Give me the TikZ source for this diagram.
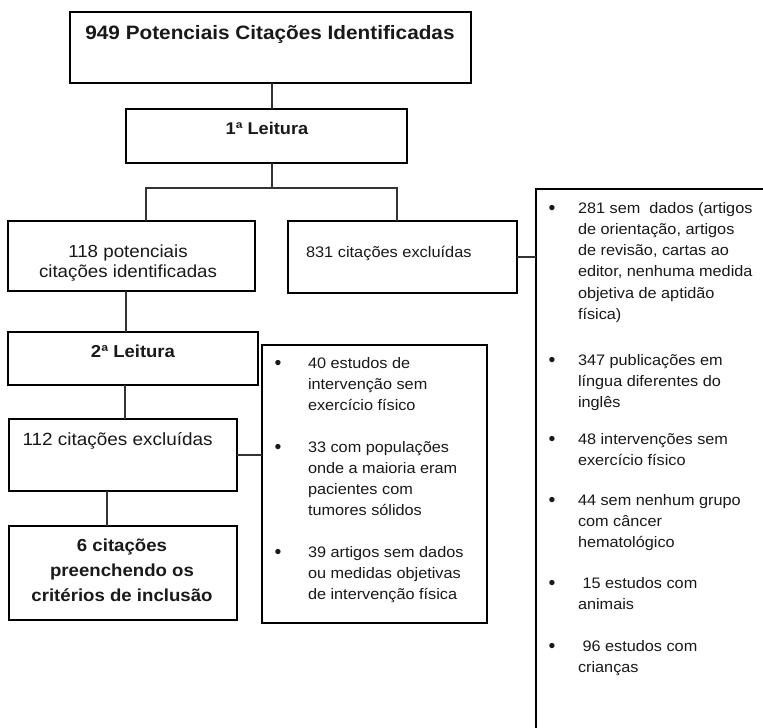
\documentclass[tikz,border=0pt]{standalone}
\usepackage{fontspec}
\setmainfont{Liberation Sans}
\usepackage{graphicx}
\newcommand{\hs}[1]{\scalebox{1.07}[1]{#1}}
\newcommand{\mylines}[1]{\begin{tabular}[t]{@{}l@{}}#1\end{tabular}}
\newcommand{\clines}[1]{\begin{tabular}[t]{@{}c@{}}#1\end{tabular}}
\begin{document}
\begin{tikzpicture}[x=1pt,y=-1pt,
  box/.style={draw=black, line width=1.2pt, inner sep=0pt, outer sep=0pt, anchor=north west},
  txt/.style={inner sep=0pt, outer sep=0pt, text=black!90},
  wire/.style={draw=black!80, line width=1.2pt},
  midtxt/.style={txt, anchor=base west, font=\fontsize{15.2}{21.3}\selectfont},
  rtxt/.style={txt, anchor=base west, font=\fontsize{15.2}{21.3}\selectfont},
  bul/.style={txt, anchor=base, yshift=-1.5pt, font=\fontsize{19.5}{21.3}\selectfont}]
\useasboundingbox (0,0) rectangle (763,728);
\fill[white] (0,0) rectangle (763,728);

% boxes
\node[box, minimum width=401pt, minimum height=71pt] (b949) at (70,12) {};
\node[box, minimum width=281pt, minimum height=54pt] (b1) at (126,109) {};
\node[box, minimum width=247pt, minimum height=70pt] (b118) at (8,221) {};
\node[box, minimum width=229pt, minimum height=72pt] (b831) at (288,221) {};
\node[box, draw=none, minimum width=227pt, minimum height=539pt] (rbox) at (536,189) {};
\node[box, minimum width=250pt, minimum height=53pt] (b2) at (8,332) {};
\node[box, minimum width=228pt, minimum height=72pt] (b112) at (9,419) {};
\node[box, minimum width=228pt, minimum height=94pt] (b6) at (9,526) {};
\node[box, minimum width=225pt, minimum height=278pt] (bmid) at (262,345) {};
\draw[line width=1.2pt] (rbox.north east) -- (rbox.north west) -- (rbox.south west);

% junction coordinates
\coordinate (j0) at (272,188);
\coordinate (jl) at (146,188);
\coordinate (jr) at (397,188);
\coordinate (c1) at (126,0);
\coordinate (c2) at (125,0);
\coordinate (c3) at (107,0);

% connectors
\draw[wire] (b949.south -| j0) -- (b1.north -| j0);
\draw[wire] (b1.south -| j0) -- (j0);
\draw[wire] (b118.north -| jl) -- (jl) -- (jr) -- (b831.north -| jr);
\draw[wire] (b831.east) -- (b831.east -| rbox.west);
\draw[wire] (b118.south -| c1) -- (b2.north -| c1);
\draw[wire] (b2.south -| c2) -- (b112.north -| c2);
\draw[wire] (b112.east) -- (b112.east -| bmid.west);
\draw[wire] (b112.south -| c3) -- (b6.north -| c3);

% box texts
\node[txt, anchor=base] (t949) at (270,39) {\hs{\fontsize{19.4}{22}\selectfont\bfseries 949 Potenciais Citações Identificadas}};
\node[txt, anchor=base] (t1) at (267,134.5) {\hs{\fontsize{17}{20}\selectfont\bfseries 1ª Leitura}};
\node[txt, anchor=base] (t118) at (128,257) {\hs{\fontsize{17.5}{20.5}\selectfont\clines{118 potenciais\\citações identificadas}}};
\node[txt, anchor=base west] (t831) at (306,257.5) {\hs{\fontsize{15.3}{18}\selectfont 831 citações excluídas}};
\node[txt, anchor=base] (t2) at (133,357.5) {\hs{\fontsize{17.3}{20}\selectfont\bfseries 2ª Leitura}};
\node[txt, anchor=base west] (t112) at (22.5,445) {\hs{\fontsize{17.7}{20}\selectfont 112 citações excluídas}};
\node[txt, anchor=base] (t6) at (122,551) {\hs{\fontsize{17.4}{25}\selectfont\bfseries\clines{6 citações\\preenchendo os\\critérios de inclusão}}};

% middle list
\node[bul] (mb1) at (278,368) {•};
\node[bul] (mb2) at (278,452) {•};
\node[bul] (mb3) at (278,557) {•};
\node[midtxt] (m1) at (308,368) {\hs{\mylines{40 estudos de\\intervenção sem\\exercício físico}}};
\node[midtxt] (m2) at (308,452) {\hs{\mylines{33 com populações\\onde a maioria eram\\pacientes com\\tumores sólidos}}};
\node[midtxt] (m3) at (308,557) {\hs{\mylines{39 artigos sem dados\\ou medidas objetivas\\de intervenção física}}};

% right list
\node[bul] (rb1) at (552,213) {•};
\node[bul] (rb2) at (552,365) {•};
\node[bul] (rb3) at (552,444) {•};
\node[bul] (rb4) at (552,505) {•};
\node[bul] (rb5) at (552,588) {•};
\node[bul] (rb6) at (552,651) {•};
\node[rtxt] (r1) at (578,213) {\hs{\mylines{281 sem\ \ dados (artigos\\de orientação, artigos\\de revisão, cartas ao\\editor, nenhuma medida\\objetiva de aptidão\\física)}}};
\node[rtxt] (r2) at (578,365) {\hs{\mylines{347 publicações em\\língua diferentes do\\inglês}}};
\node[rtxt] (r3) at (578,444) {\hs{\mylines{48 intervenções sem\\exercício físico}}};
\node[rtxt] (r4) at (578,505) {\hs{\mylines{44 sem nenhum grupo\\com câncer\\hematológico}}};
\node[rtxt] (r5) at (578,588) {\hs{\mylines{\ 15 estudos com\\animais}}};
\node[rtxt] (r6) at (578,651) {\hs{\mylines{\ 96 estudos com\\crianças}}};
\end{tikzpicture}
\end{document}
